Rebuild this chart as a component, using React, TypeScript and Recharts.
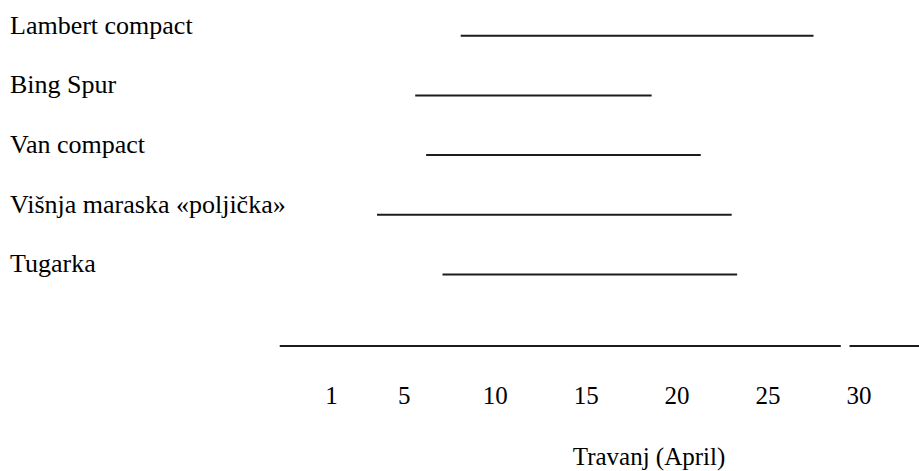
import { LineChart, Line, XAxis, YAxis } from "recharts";

// Flowering period per cherry variety, days of April
const varieties = [
  "Lambert compact",
  "Bing Spur",
  "Van compact",
  "Višnja maraska «poljička»",
  "Tugarka",
];
const bloomStart = [8.1, 5.6, 6.2, 3.5, 7.1];
const bloomEnd = [27.5, 18.6, 21.3, 23.0, 23.3];

const dayTicks = [1, 5, 10, 15, 20, 25, 30];
// the drawn baseline is broken just before the 30th
const axisSegments = [
  [-1.85, 29.0],
  [29.48, 33.3],
];
const xDomain: [number, number] = [-2, 33.3];
const rowDomain: [number, number] = [-0.6, 5.2];

const FONT = "'Liberation Serif', 'Times New Roman', serif";
const INK = "#1c1c1c";

function VarietyTick(props: any) {
  const { y, payload } = props;
  return (
    <text x={10} y={y - 2} textAnchor="start" fontSize={26} fill="#000" fontFamily={FONT}>
      {varieties[payload.value]}
    </text>
  );
}

export default function App() {
  return (
    <div style={{ position: "fixed", left: 0, top: 0, width: 919, height: 471, background: "#fff", fontFamily: FONT }}>
      <LineChart width={919} height={471} margin={{ top: 0, right: 0, bottom: 0, left: 0 }}>
        <XAxis
          dataKey="day"
          type="number"
          domain={xDomain}
          ticks={dayTicks}
          interval={0}
          axisLine={false}
          tickLine={false}
          tickMargin={34}
          height={125}
          tick={{ fontSize: 25, fill: "#000", fontFamily: FONT }}
          label={{
            value: "Travanj (April)",
            position: "insideBottom",
            offset: 6,
            dx: 51,
            fontSize: 25,
            fill: "#000",
            fontFamily: FONT,
          }}
        />
        <YAxis
          type="number"
          domain={rowDomain}
          reversed
          ticks={[0, 1, 2, 3, 4]}
          interval={0}
          axisLine={false}
          tickLine={false}
          width={277}
          tick={<VarietyTick />}
        />
        {varieties.map((name, i) => (
          <Line
            key={name}
            name={name}
            data={[
              { day: bloomStart[i], row: i },
              { day: bloomEnd[i], row: i },
            ]}
            dataKey="row"
            stroke={INK}
            strokeWidth={2}
            dot={false}
            activeDot={false}
            isAnimationActive={false}
          />
        ))}
        {axisSegments.map(([a, b], i) => (
          <Line
            key={"axis" + i}
            data={[
              { day: a, row: rowDomain[1] },
              { day: b, row: rowDomain[1] },
            ]}
            dataKey="row"
            stroke={INK}
            strokeWidth={2}
            dot={false}
            activeDot={false}
            isAnimationActive={false}
          />
        ))}
      </LineChart>
    </div>
  );
}
